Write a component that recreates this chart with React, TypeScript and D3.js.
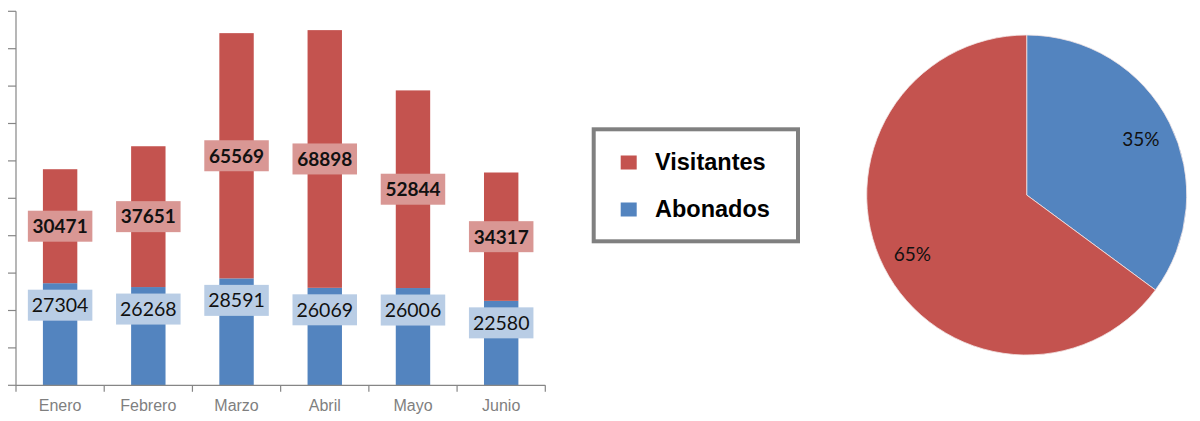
import * as d3 from "d3";

const months = ["Enero", "Febrero", "Marzo", "Abril", "Mayo", "Junio"];
const abonados = [27304, 26268, 28591, 26069, 26006, 22580];
const visitantes = [30471, 37651, 65569, 68898, 52844, 34317];
const seriesNames = ["Visitantes", "Abonados"];
const yTicks = [0, 10000, 20000, 30000, 40000, 50000, 60000, 70000, 80000, 90000, 100000];

const RED = "#c4534f";
const BLUE = "#5384bf";
const RED_BOX = "#d99794";
const BLUE_BOX = "#b9cde5";
const AXIS = "#868686";
const LABEL_FONT = "Lato, 'Noto Sans', sans-serif";

function BarChart() {
  const x = d3.scaleBand<string>().domain(months).range([16, 545.3]);
  const y = d3.scaleLinear().domain([0, 100000]).range([385.3, 11.3]);
  const barW = x.step() * 0.39;
  const boxW = 64.5;
  const boxH = 31;

  return (
    <g>
      {months.map((m, i) => {
        const cx = x(m)! + x.bandwidth() / 2;
        const blueTop = y(abonados[i]);
        const redTop = y(abonados[i] + visitantes[i]);
        const redMid = (redTop + blueTop) / 2;
        const blueLab = blueTop + 22;
        return (
          <g key={m}>
            <rect x={cx - barW / 2} y={blueTop} width={barW} height={y(0) - blueTop} fill={BLUE} />
            <rect x={cx - barW / 2} y={redTop} width={barW} height={blueTop - redTop} fill={RED} />
            <rect x={cx - boxW / 2} y={redMid - boxH / 2} width={boxW} height={boxH} fill={RED_BOX} />
            <text x={cx} y={redMid} dy="0.36em" textAnchor="middle" fontFamily={LABEL_FONT}
              fontWeight="bold" fontSize={19} fill="#111">{visitantes[i]}</text>
            <rect x={cx - boxW / 2} y={blueLab - boxH / 2} width={boxW} height={boxH} fill={BLUE_BOX} />
            <text x={cx} y={blueLab} dy="0.36em" textAnchor="middle" fontFamily={LABEL_FONT}
              fontSize={19.5} fill="#111">{abonados[i]}</text>
          </g>
        );
      })}
      {/* y axis */}
      <line x1={16} x2={16} y1={y(100000)} y2={y(0)} stroke={AXIS} strokeWidth={1.2} />
      {yTicks.map((t) => (
        <line key={t} x1={8} x2={16} y1={y(t)} y2={y(t)} stroke={AXIS} strokeWidth={1.2} />
      ))}
      {/* x axis */}
      <line x1={16} x2={545.3} y1={y(0)} y2={y(0)} stroke={AXIS} strokeWidth={1.2} />
      {months.map((m) => (
        <line key={m} x1={x(m)!} x2={x(m)!} y1={y(0)} y2={y(0) + 6.5} stroke={AXIS} strokeWidth={1.2} />
      ))}
      <line x1={545.3} x2={545.3} y1={y(0)} y2={y(0) + 6.5} stroke={AXIS} strokeWidth={1.2} />
      {months.map((m) => (
        <text key={m} x={x(m)! + x.bandwidth() / 2} y={405} dy="0.35em" textAnchor="middle"
          fontFamily="'Liberation Sans', Arial, sans-serif" fontSize={16} fill="#7f7f7f">{m}</text>
      ))}
    </g>
  );
}

function Legend() {
  const colors = [RED, BLUE];
  const baselines = [169.5, 216.5];
  return (
    <g>
      <rect x={593.7} y={129.3} width={204.3} height={112} fill="#fff" stroke="#808080" strokeWidth={4} />
      {seriesNames.map((s, i) => (
        <g key={s}>
          <rect x={620.7} y={baselines[i] - 14} width={16} height={14} fill={colors[i]} />
          <text x={655} y={baselines[i]} fontFamily="'Liberation Sans', Arial, sans-serif"
            fontWeight="bold" fontSize={23.5} fill="#000">{s}</text>
        </g>
      ))}
    </g>
  );
}

function PieChart() {
  const totals = [d3.sum(abonados), d3.sum(visitantes)];
  const colors = [BLUE, RED];
  const r = 160;
  const pie = d3.pie<number>().sort(null)(totals);
  const arc = d3.arc<d3.PieArcDatum<number>>().innerRadius(0).outerRadius(r);
  const labelArc = d3.arc<d3.PieArcDatum<number>>().innerRadius(128).outerRadius(128);
  const total = d3.sum(totals);
  return (
    <g transform="translate(1026.7,195)">
      {pie.map((p, i) => (
        <path key={i} d={arc(p)!} fill={colors[i]} stroke="#f2e6e6" strokeWidth={0.8} />
      ))}
      {pie.map((p, i) => {
        const [lx, ly] = labelArc.centroid(p);
        return (
          <text key={"l" + i} x={lx} y={ly + 2} dy="0.35em" textAnchor="middle" fontFamily={LABEL_FONT}
            fontSize={19} fill="#111">{Math.round((p.value / total) * 100)}%</text>
        );
      })}
    </g>
  );
}

export default function App() {
  return (
    <svg width={1200} height={421} style={{ position: "absolute", left: 0, top: 0, background: "#fff" }}>
      <rect width={1200} height={421} fill="#fff" />
      <BarChart />
      <Legend />
      <PieChart />
    </svg>
  );
}
